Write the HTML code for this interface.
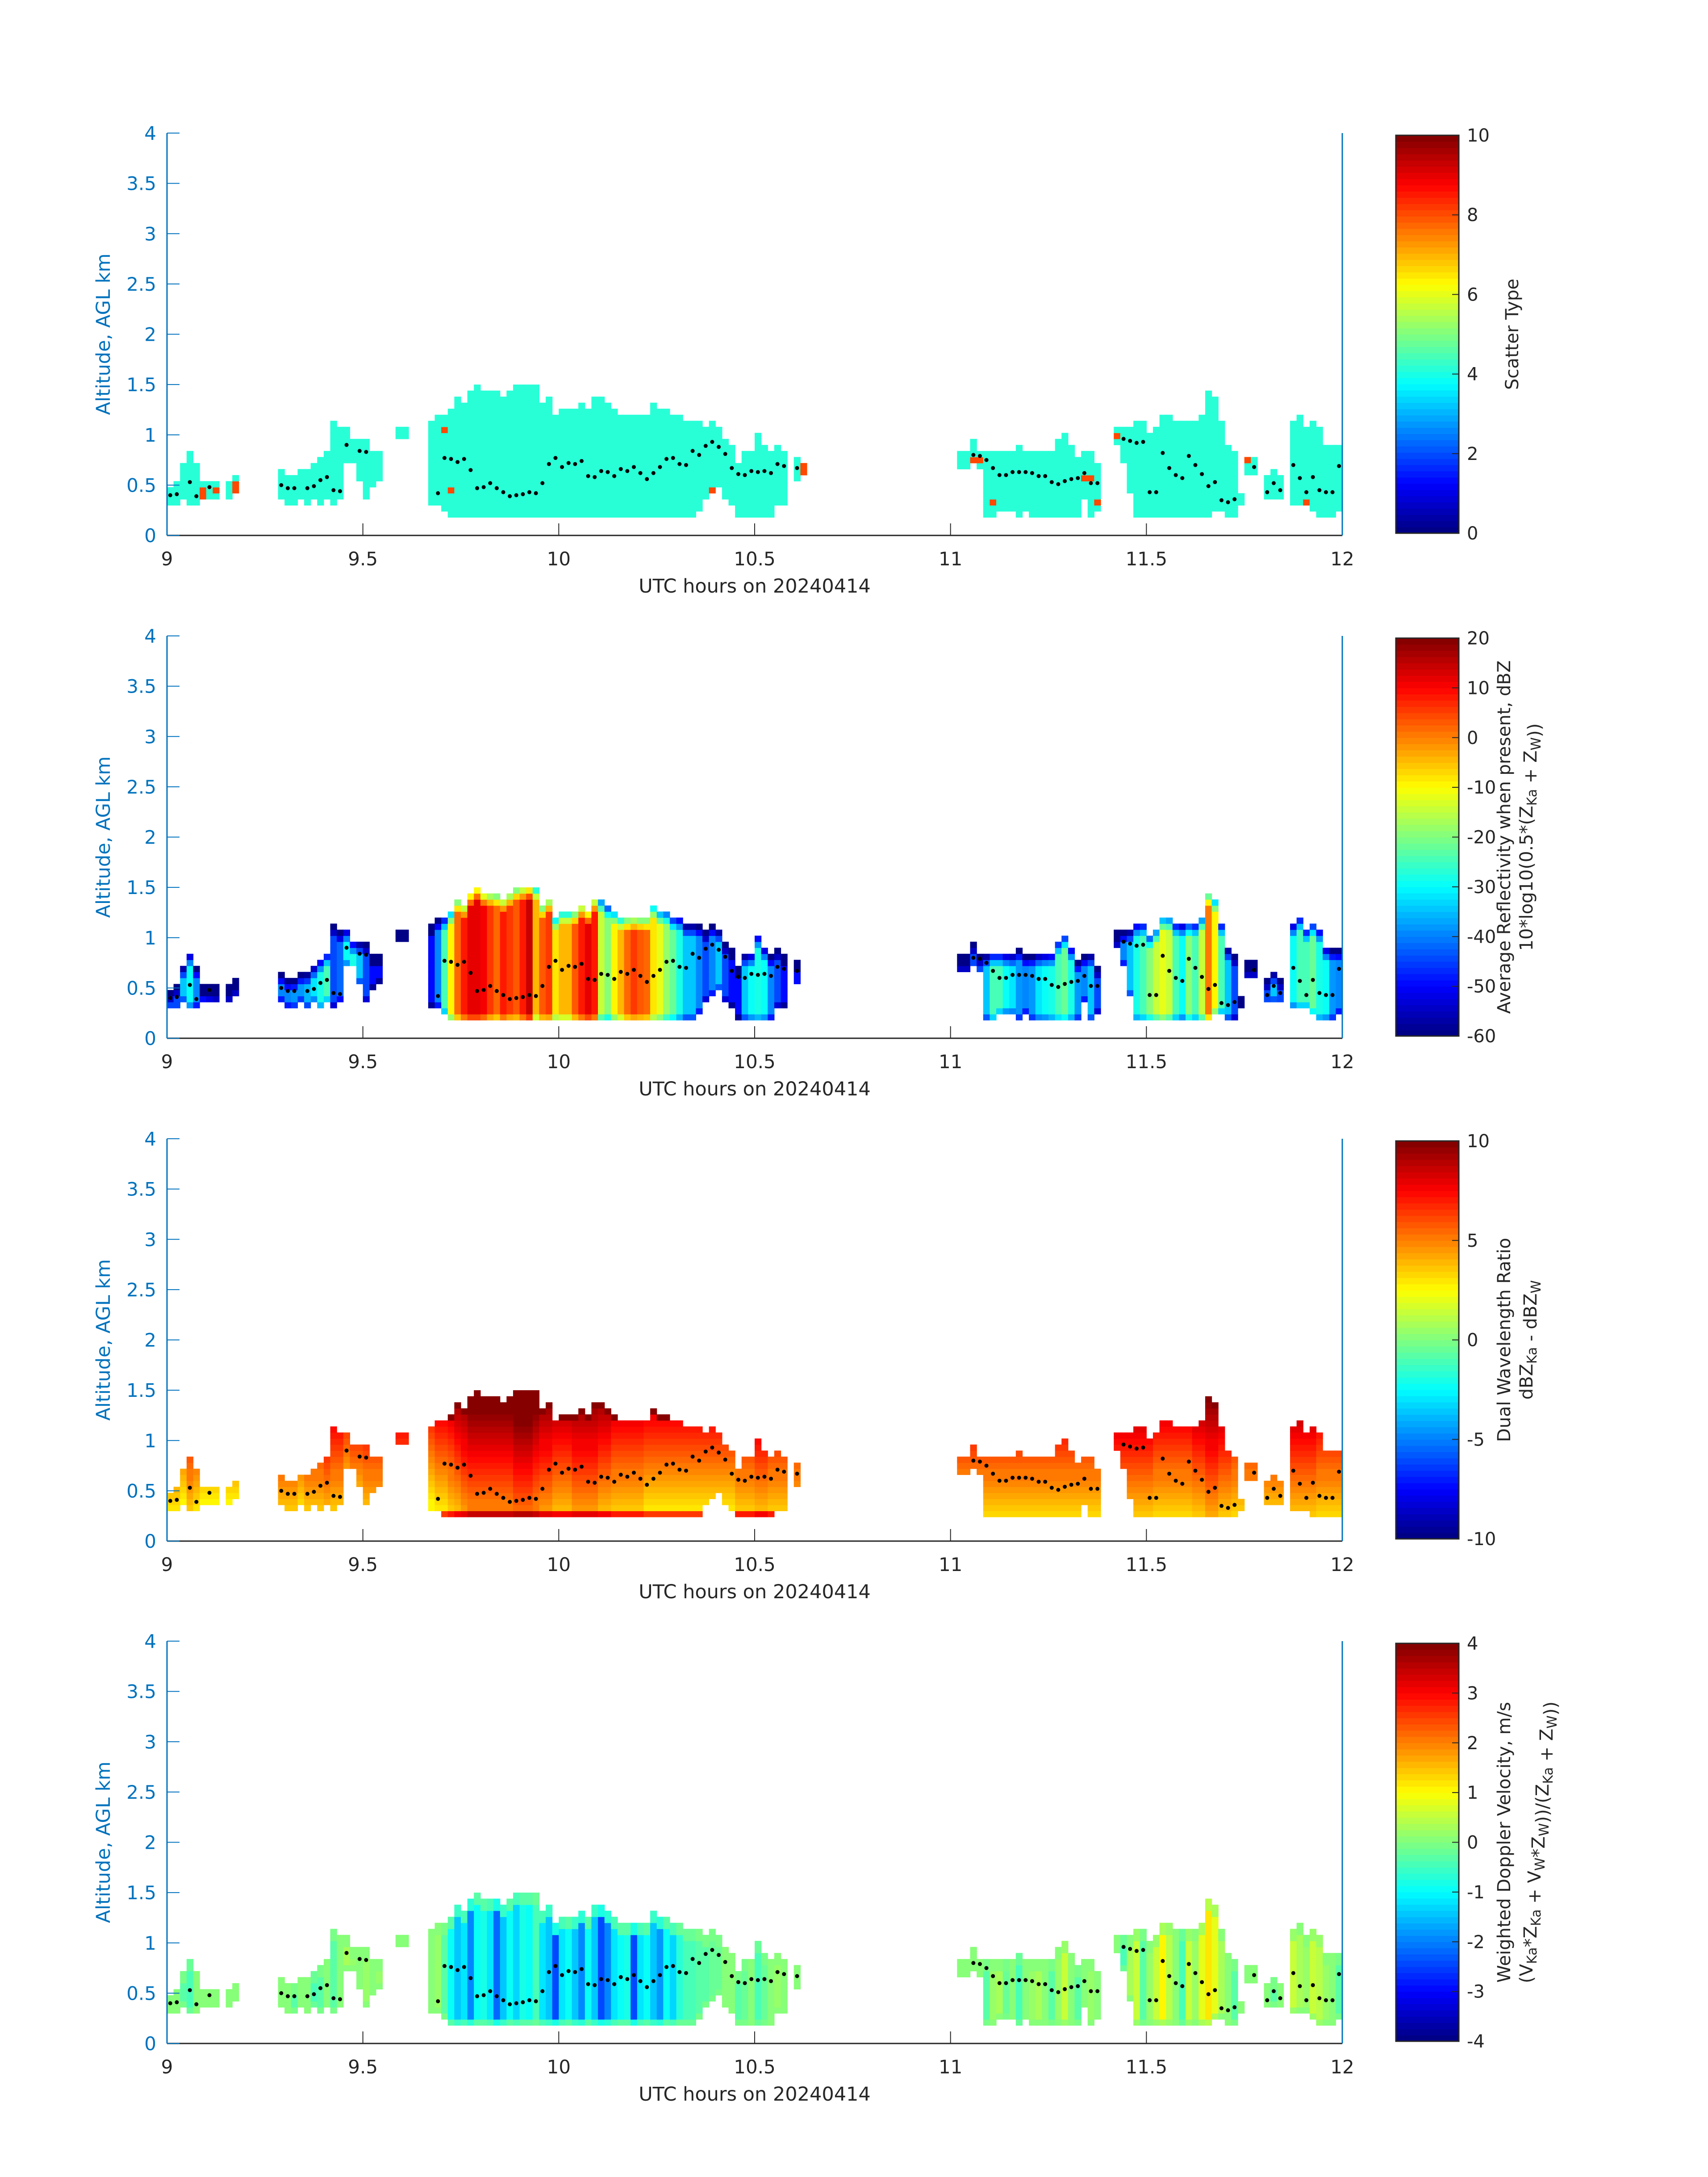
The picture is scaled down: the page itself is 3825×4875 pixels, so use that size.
<!DOCTYPE html>
<html><head><meta charset="utf-8">
<style>
html,body{margin:0;padding:0;background:#fff;}
svg{display:block;}
text{font-family:"DejaVu Sans","Liberation Sans",sans-serif;}
</style></head>
<body>
<svg id="fig" width="3825" height="4875" viewBox="0 0 3825 4875" xmlns="http://www.w3.org/2000/svg"></svg>
<script>
// ---- data ----
const colMin = [0,1,2,3,4,5,6,7,9,10,
 17,18,19,20,21,22,23,24,25,26,27,28,29,30,31,32,35,36,
 40,41,42,43,44,45,46,47,48,49,50,51,52,53,54,55,56,57,58,59,60,61,62,63,64,65,66,67,68,69,70,71,72,73,74,75,76,77,78,79,80,81,82,83,84,85,86,
 87,88,89,90,91,92,93,94,96,
 121,122,123,124,125,126,127,128,129,130,131,132,133,134,135,136,137,138,139,140,141,142,
 145,146,147,148,149,150,151,152,153,154,155,156,157,158,159,160,161,162,163,164,165,166,168,169,170,172,173,174,175,176,177,178,179];
const colBot = [.30,.30,.36,.30,.30,.36,.36,.36,.36,.42,
 .36,.30,.30,.36,.30,.36,.30,.36,.30,.36,.72,.72,.54,.36,.48,.54,.96,.96,
 .30,.30,.24,.18,.18,.18,.18,.18,.18,.18,.18,.18,.18,.18,.18,.18,.18,.18,.18,.18,.18,.18,.18,.18,.18,.18,.18,.18,.18,.18,.18,.18,.18,.18,.18,.18,.18,.18,.18,.18,.18,.24,.36,.42,.48,.36,.30,
 .18,.18,.18,.18,.18,.18,.30,.30,.54,
 .66,.66,.72,.66,.18,.18,.24,.24,.24,.18,.24,.18,.18,.18,.18,.18,.18,.18,.18,.36,.18,.24,
 .90,.72,.42,.18,.18,.18,.18,.18,.18,.18,.18,.18,.18,.18,.18,.24,.24,.18,.18,.30,.60,.60,.36,.36,.36,.30,.30,.30,.24,.18,.18,.18,.24];
const colTop = [.48,.54,.72,.84,.72,.54,.54,.54,.54,.60,
 .66,.60,.60,.66,.66,.72,.78,.84,1.14,1.08,1.08,.96,.96,.96,.84,.84,1.08,1.08,
 1.14,1.20,1.20,1.26,1.38,1.32,1.44,1.50,1.44,1.44,1.44,1.38,1.44,1.50,1.50,1.50,1.50,1.32,1.38,1.20,1.26,1.26,1.26,1.32,1.26,1.38,1.38,1.32,1.26,1.20,1.20,1.20,1.20,1.20,1.32,1.26,1.26,1.20,1.20,1.14,1.14,1.14,1.08,1.14,1.08,.96,.90,
 .72,.84,.84,1.02,.90,.84,.90,.84,.78,
 .84,.84,.96,.84,.84,.84,.84,.84,.84,.90,.84,.84,.84,.84,.84,.96,1.02,.90,.78,.84,.84,.72,
 1.08,1.08,1.08,1.14,1.14,1.02,1.08,1.20,1.20,1.14,1.14,1.14,1.14,1.20,1.44,1.38,1.14,.90,.84,.42,.78,.78,.60,.66,.60,1.14,1.20,1.08,1.14,1.08,.90,.90,.90];
const reflValues = [-45,-45,-35,-30,-40,-50,-52,-55,-55,-55,
 -40,-40,-38,-38,-36,-32,-28,-25,-45,-42,-30,-28,-35,-45,-50,-50,-58,-58,
 -50,-40,-25,-10,2,8,12,12,10,5,2,8,5,3,8,14,-5,3,5,-8,-5,-5,3,8,12,8,-15,-20,-10,-5,2,5,3,2,-8,-12,-18,-22,-28,-35,-35,-40,-45,-40,-35,-45,-50,
 -50,-35,-30,-28,-30,-40,-45,-50,-50,
 -55,-55,-45,-45,-35,-25,-25,-30,-32,-38,-40,-38,-32,-30,-28,-24,-22,-28,-38,-40,-35,-45,
 -55,-40,-35,-28,-25,-20,-15,-12,-15,-25,-30,-20,-25,-15,0,-10,-25,-35,-45,-55,-55,-55,-45,-35,-45,-30,-25,-25,-22,-28,-30,-38,-40];
const dwrValues = [4.5,4.5,4,5,4.5,4,4,4,4,4,
 5,5,5,4.5,5,5,5,5.5,5,5,4,4.5,4.5,5,5,5,5,5,
 4,4.5,4.5,5,5.5,6,6.5,6.5,6.5,6.5,6.5,6.5,6.5,7,7,7,6.5,6,6,5.5,5.5,5.5,6,6,6,6,5.5,5.5,5,5,5,5,5,4.5,4.5,4.5,4.5,4.5,4.5,4.5,4.5,4.5,4.5,4.5,4.5,4.5,4.5,
 5,5,5,5.5,5.5,5,5,5,5,
 5,5,5,5,5,5,5,5,5,5,5,5,5,5,5,5,5,5,5,5,5,5,
 5.5,5.5,5.5,5.5,5.5,5.5,5,5,5,5,5,5,5.5,5.5,6,6,5.5,5.5,5,5,5,5,5,5,5,5.5,5.5,5.5,5.5,5,5,5,5];
const velValues = [0,0,-0.3,-0.5,0,0,0,0.2,0,0.2,
 0,0.1,-0.3,0,0,-0.5,-0.3,0,-0.3,0,0.3,0.2,0,0.2,0,0.2,0.2,0.2,
 0,0.2,-0.3,-1,-1.5,-1.2,-2,-1,-0.8,-1.2,-2.2,-1.5,-1,-1.3,-0.8,-1,-0.5,-1.2,-1.5,-2.5,-1.2,-1,-1.5,-2,-1,-1.5,-2.5,-2,-1.2,-1,-0.8,-2.5,-1.2,-1,-1.5,-1.8,-1,-1.3,-0.7,-0.5,-0.4,-0.3,-0.3,-0.2,-0.2,0,0,
 -0.3,-0.2,0,-0.5,-0.2,0,0.2,0,0,
 0.2,0,0,0,-0.3,0.2,0.3,-0.2,0,-0.4,0,0.2,0.3,0,-0.3,0.2,0.5,0,-0.3,0,0.2,0,
 0,-0.5,0.3,0.5,-0.3,0.2,0.5,1,0.4,0,-0.4,0.5,0.2,0.8,1.2,0.8,0.3,0,-0.3,0,0,0,0,-0.3,0,0.5,0.3,0.2,0.6,0.4,0.2,0,-0.3];
// scatter type special cells: minute, altitude bottom, value
const specMin = [5,5,7,10,10,42,43,83,97,97,123,124,126,140,141,142,145,165,174];
const specAlt = [.36,.42,.42,.42,.48,1.02,.42,.42,.60,.66,.72,.72,.30,.54,.54,.30,.96,.72,.30];
const specVal = [8,8,8,8,8,8,8,8,8,8,8,8,8,8,8,8,8,8,8];
const scatterDefault = 4.1;
// black dots: minute, altitude
const dotMin = [0.5,1.5,3.5,4.5,6.5,17.5,18.5,19.5,21.5,22.5,23.5,24.5,25.5,26.5,27.5,29.5,30.5,
 41.5,42.5,43.5,44.5,45.5,46.5,47.5,48.5,49.5,50.5,51.5,52.5,53.5,54.5,55.5,56.5,57.5,58.5,59.5,60.5,61.5,62.5,63.5,64.5,65.5,66.5,67.5,68.5,69.5,70.5,71.5,72.5,73.5,74.5,75.5,76.5,77.5,78.5,79.5,80.5,81.5,82.5,83.5,84.5,85.5,86.5,87.5,88.5,89.5,90.5,91.5,92.5,93.5,94.5,96.5,
 123.5,124.5,125.5,126.5,127.5,128.5,129.5,130.5,131.5,132.5,133.5,134.5,135.5,136.5,137.5,138.5,139.5,140.5,141.5,142.5,
 146.5,147.5,148.5,149.5,150.5,151.5,152.5,153.5,154.5,155.5,156.5,157.5,158.5,159.5,160.5,161.5,162.5,163.5,166.5,168.5,169.5,170.5,172.5,173.5,174.5,175.5,176.5,177.5,178.5,179.5];
const dotAlt = [0.40,0.41,0.53,0.39,0.48,0.50,0.47,0.47,0.47,0.49,0.55,0.58,0.45,0.44,0.90,0.84,0.83,
 0.42,0.77,0.76,0.73,0.76,0.65,0.47,0.48,0.52,0.47,0.43,0.39,0.40,0.41,0.43,0.42,0.52,0.71,0.77,0.68,0.72,0.71,0.74,0.59,0.58,0.64,0.63,0.59,0.66,0.64,0.68,0.62,0.56,0.62,0.68,0.76,0.77,0.71,0.70,0.84,0.80,0.89,0.93,0.88,0.81,0.67,0.61,0.60,0.64,0.63,0.64,0.62,0.71,0.69,0.67,
 0.80,0.79,0.75,0.67,0.60,0.60,0.63,0.63,0.63,0.62,0.59,0.59,0.53,0.51,0.54,0.56,0.57,0.62,0.52,0.52,
 0.96,0.94,0.92,0.93,0.43,0.43,0.82,0.67,0.60,0.57,0.79,0.70,0.61,0.49,0.53,0.35,0.33,0.36,0.68,0.43,0.52,0.45,0.70,0.57,0.43,0.58,0.45,0.43,0.43,0.69];
const xTicks = [9,9.5,10,10.5,11,11.5,12];
const xTickLabels = ["9","9.5","10","10.5","11","11.5","12"];
const yTicks = [0,0.5,1,1.5,2,2.5,3,3.5,4];
const yTickLabels = ["0","0.5","1","1.5","2","2.5","3","3.5","4"];
const cb1Ticks=[0,2,4,6,8,10], cb2Ticks=[-60,-50,-40,-30,-20,-10,0,10,20], cb3Ticks=[-10,-5,0,5,10], cb4Ticks=[-4,-3,-2,-1,0,1,2,3,4];

// ---- layout ----
const NS="http://www.w3.org/2000/svg";
const svg=document.getElementById('fig');
const AX_L=374, AX_R=3006, AX_H=901, CB_L=3126, CB_R=3267;
const panelBottoms=[1199,2325,3451,4576];
const BLUE="#0072BD", DARK="#262626";
function el(tag,attrs,parent){const e=document.createElementNS(NS,tag);for(const k in attrs)e.setAttribute(k,attrs[k]);(parent||svg).appendChild(e);return e;}
function jet(t){t=Math.max(0,Math.min(1,t));const i=Math.min(63,Math.floor(t*64));const u=(i+0.5)/64;
 const c=v=>Math.round(255*Math.max(0,Math.min(1,v)));
 return `rgb(${c(1.5-Math.abs(4*u-3))},${c(1.5-Math.abs(4*u-2))},${c(1.5-Math.abs(4*u-1))})`;}
function xScale(h){return AX_L+(h-9)/3*(AX_R-AX_L);}
const colW=(AX_R-AX_L)/180;

function drawPanel(p){
 const bot=panelBottoms[p], top=bot-AX_H;
 const yS=a=>bot-a/4*AX_H;
 const g=el('g',{});  
 const cells=el('g',{},g);  
 const ranges=[[0,10],[-60,20],[-10,10],[-4,4]];
 const [vmin,vmax]=ranges[p];
 for(let i=0;i<colMin.length;i++){
  const m=colMin[i]; let b=colBot[i]; const tp=colTop[i];
  if(p===2&&b<0.24)b=0.24;
  const n=Math.round((tp-b)/0.06);
  for(let k=0;k<n;k++){
   const a=b+k*0.06; let v;
   const fromTop=n-1-k;
   if(p===0){v=scatterDefault;for(let s=0;s<specMin.length;s++){if(specMin[s]===m&&Math.abs(specAlt[s]-a)<0.01)v=specVal[s];}}
   else if(p===1){v=reflValues[i];if(fromTop===0)v-=22;else if(fromTop===1)v-=10;if(k===0&&n>4)v-=8;}
   else if(p===2){v=dwrValues[i]+(a-0.6)*5;if(fromTop===0&&tp>1.2)v+=2.5;if(k===0&&b<0.25&&m>=40&&m<=94)v=dwrValues[i]+2;}
   else {v=velValues[i];if(fromTop<=1||k===0)v=v*0.35;}
   const r=el('rect',{x:(xScale(9+m/60)).toFixed(2),y:(yS(a+0.06)).toFixed(2),width:(colW+0.6).toFixed(2),height:(AX_H/4*0.06+0.6).toFixed(2),fill:jet((v-vmin)/(vmax-vmin))},cells);
   
   
  }
 }
 if(p===0){for(let s=0;s<specMin.length;s++){let found=false;for(let i=0;i<colMin.length;i++)if(colMin[i]===specMin[s])found=true;
  if(!found){const r=el('rect',{x:xScale(9+specMin[s]/60),y:yS(specAlt[s]+0.06),width:colW+0.6,height:AX_H/4*0.06+0.6,fill:jet((specVal[s]-vmin)/(vmax-vmin))},cells);
  
  }}}
 const dots=el('g',{},g);  
 for(let i=0;i<dotMin.length;i++){const c=el('ellipse',{cx:xScale(9+dotMin[i]/60),cy:yS(dotAlt[i]),rx:4.5,ry:4.5,fill:'#000'},dots);
  
  }
 // axes
 const xa=el('g',{},g);  
 el('line',{x1:AX_L,y1:bot,x2:AX_R,y2:bot,stroke:DARK,'stroke-width':3},xa);
 xTicks.forEach((t,i)=>{const x=xScale(t);el('line',{x1:x,y1:bot,x2:x,y2:bot-27,stroke:DARK,'stroke-width':2},xa);
  const tx=el('text',{x:x,y:bot+67,'font-size':42,fill:DARK,'text-anchor':'middle'},xa);tx.textContent=xTickLabels[i];
  
  });
 const xl=el('text',{x:(AX_L+AX_R)/2,y:bot+128,'font-size':43,fill:DARK,'text-anchor':'middle'},g);xl.textContent='UTC hours on 20240414';
  
 const ya=el('g',{},g);  
 el('line',{x1:AX_L,y1:top,x2:AX_L,y2:bot,stroke:BLUE,'stroke-width':3},ya);
 el('line',{x1:AX_R,y1:top,x2:AX_R,y2:bot,stroke:BLUE,'stroke-width':3},ya);
 yTicks.forEach((t,i)=>{const y=yS(t);el('line',{x1:AX_L,y1:y,x2:AX_L+28,y2:y,stroke:BLUE,'stroke-width':2},ya);
  const tx=el('text',{x:350,y:y+15,'font-size':42,fill:BLUE,'text-anchor':'end'},ya);tx.textContent=yTickLabels[i];
  
  });
 const yl=el('text',{x:0,y:0,'font-size':43,fill:BLUE,'text-anchor':'middle',transform:`translate(246,${(top+bot)/2}) rotate(-90)`},g);yl.textContent='Altitude, AGL km';
  
 // colorbar
 const cb=el('g',{},g);  
 const cbT=top+5, cbB=bot-5, hh=(cbB-cbT)/64;
 for(let i=0;i<64;i++)el('rect',{x:CB_L,y:cbB-(i+1)*hh,width:CB_R-CB_L,height:hh+0.7,fill:jet((i+0.5)/64)},cb);
 el('rect',{x:CB_L,y:cbT,width:CB_R-CB_L,height:cbB-cbT,fill:'none',stroke:DARK,'stroke-width':3},cb);
 const ticks=[cb1Ticks,cb2Ticks,cb3Ticks,cb4Ticks][p];
 ticks.forEach(t=>{const y=cbB-(t-vmin)/(vmax-vmin)*(cbB-cbT);
  if(t!==vmin&&t!==vmax)el('line',{x1:CB_R-15,y1:y,x2:CB_R,y2:y,stroke:DARK,'stroke-width':2},cb);
  const tx=el('text',{x:3285,y:y+14,'font-size':40,fill:DARK},cb);tx.textContent=String(t);
  
  });
 const cy=(cbT+cbB)/2;
 const lab=el('g',{},cb);  
 function rt(x,html){const t=el('text',{x:0,y:0,'font-size':40,fill:DARK,'text-anchor':'middle',transform:`translate(${x},${cy}) rotate(-90)`},lab);t.innerHTML=html;return t;}
 const sub=s=>`<tspan font-size="30" dy="9">${s}</tspan><tspan dy="-9"></tspan>`;
 if(p===0)rt(3400,'Scatter Type');
 if(p===1){rt(3382,'Average Reflectivity when present, dBZ');rt(3432,'10*log10(0.5*(Z'+sub('Ka')+' + Z'+sub('W')+'))');}
 if(p===2){rt(3382,'Dual Wavelength Ratio');rt(3432,'dBZ'+sub('Ka')+' - dBZ'+sub('W'));}
 if(p===3){rt(3382,'Weighted Doppler Velocity, m/s');rt(3432,'(V'+sub('Ka')+'*Z'+sub('Ka')+' + V'+sub('W')+'*Z'+sub('W')+'))/(Z'+sub('Ka')+' + Z'+sub('W')+'))');}
}
for(let p=0;p<4;p++)drawPanel(p);
</script>
</body></html>
